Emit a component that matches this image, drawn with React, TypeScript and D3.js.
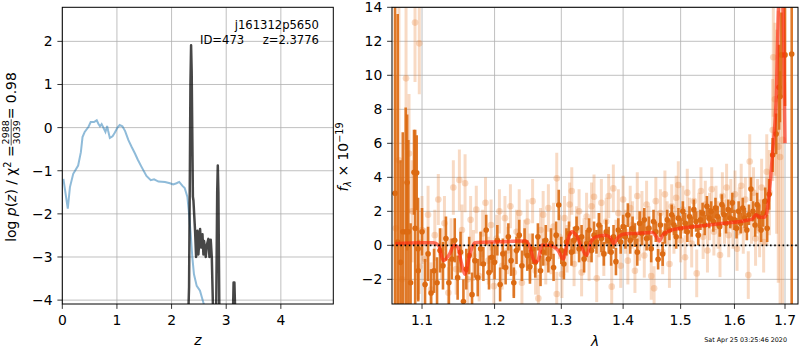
import * as d3 from 'd3';
import React, { useRef, useEffect } from 'react';

// ---- p(z) panel ----
const zTicks = [0, 1, 2, 3, 4];
const lnpTicks = [-4, -3, -2, -1, 0, 1, 2];

// prior-like curve (blue)
const zBlue = [0.02, 0.06, 0.10, 0.14, 0.20, 0.29, 0.34, 0.37, 0.41, 0.48, 0.52, 0.58, 0.63, 0.66, 0.69, 0.72, 0.76, 0.79, 0.82, 0.84, 0.87, 0.92, 0.96, 1.01, 1.05, 1.10, 1.15, 1.21, 1.27, 1.33, 1.38, 1.45, 1.54, 1.62, 1.68, 1.76, 1.88, 1.97, 2.03, 2.09, 2.14, 2.20, 2.24, 2.29, 2.32, 2.35, 2.38, 2.41, 2.46, 2.52, 2.58, 2.61];
const lnpBlue = [-1.19, -1.53, -1.88, -1.38, -1.07, -0.88, -0.57, -0.22, -0.10, 0.02, 0.13, 0.13, 0.17, 0.09, 0.03, 0.08, -0.02, -0.10, 0.04, -0.08, -0.24, -0.20, -0.12, 0.0, 0.06, 0.03, -0.08, -0.29, -0.45, -0.60, -0.74, -0.91, -1.12, -1.22, -1.20, -1.25, -1.26, -1.29, -1.32, -1.29, -1.26, -1.35, -1.40, -1.61, -2.0, -2.47, -3.01, -3.40, -3.67, -3.78, -4.05, -4.17];

// posterior (dark)
const zDark = [2.27, 2.30, 2.32, 2.335, 2.345, 2.357, 2.368, 2.39, 2.40, 2.43, 2.449, 2.473, 2.491, 2.522, 2.540, 2.565, 2.583, 2.595, 2.626, 2.644, 2.674, 2.693, 2.717, 2.736, 2.766, 2.79, 2.815, 2.835, 2.846, 2.857, 2.876, 2.90, 3.10, 3.121, 3.135, 3.15, 3.169, 3.19];
const lnpDark = [-6, -4.6, -3.7, -1.0, 1.0, 1.91, 1.3, -1.6, -1.69, -2.39, -3.0, -2.39, -2.94, -2.35, -2.78, -2.47, -2.94, -2.63, -3.0, -2.73, -2.58, -3.0, -2.60, -3.0, -4.6, -6, -4.5, -1.5, -0.88, -1.5, -4.5, -6, -6, -4.5, -3.59, -3.59, -4.5, -6];

// ---- spectrum panel ----
const lamTicks = [1.1, 1.2, 1.3, 1.4, 1.5, 1.6, 1.7];
const fluxTicks = [-2, 0, 2, 4, 6, 8, 10, 12, 14];

const modelWave = [1.065, 1.10, 1.115, 1.122, 1.1285, 1.137, 1.143, 1.148, 1.153, 1.158, 1.165, 1.172, 1.20, 1.245, 1.251, 1.2597, 1.264, 1.27, 1.28, 1.295, 1.303, 1.31, 1.316, 1.325, 1.333, 1.340, 1.347, 1.355, 1.37, 1.379, 1.384, 1.39, 1.40, 1.42, 1.45, 1.457, 1.462, 1.468, 1.48, 1.50, 1.54, 1.58, 1.62, 1.635, 1.642, 1.650, 1.658, 1.663, 1.668, 1.675, 1.682, 1.688, 1.695, 1.700];
const modelFlux = [0.1, 0.15, 0.15, 0.0, -0.9, -0.5, 0.0, -0.1, -1.0, -1.7, -0.5, 0.15, 0.2, 0.25, 0.0, -1.0, -0.9, 0.0, 0.0, -0.3, -0.8, 0.3, 0.8, 0.5, -0.2, -0.6, 0.2, 0.5, 0.6, 0.45, 0.1, 0.4, 0.65, 0.7, 0.75, 0.5, 0.25, 0.6, 0.85, 1.0, 1.15, 1.3, 1.45, 1.55, 1.8, 1.65, 1.65, 1.9, 3.0, 5.5, 8.5, 14.5, 14.5, 6.0];

const darkWave = [1.0650, 1.0684, 1.0720, 1.0749, 1.0787, 1.0805, 1.0821, 1.0850, 1.0895, 1.0910, 1.0930, 1.0948, 1.095,
  1.100, 1.104, 1.108, 1.112, 1.116, 1.120, 1.124, 1.128, 1.132, 1.136, 1.140, 1.144, 1.148, 1.152, 1.156, 1.160, 1.164, 1.168, 1.172, 1.176, 1.180, 1.184, 1.188, 1.192, 1.196,
  1.200, 1.204, 1.208, 1.212, 1.216, 1.220, 1.224, 1.228, 1.232, 1.236, 1.240, 1.244, 1.248, 1.252, 1.256, 1.260, 1.264, 1.268, 1.272, 1.276, 1.280, 1.284, 1.288, 1.292, 1.296,
  1.300, 1.304, 1.308, 1.312, 1.316, 1.320, 1.324, 1.328, 1.332, 1.336, 1.340, 1.344, 1.348, 1.352, 1.356, 1.360, 1.364, 1.368, 1.372, 1.376, 1.380, 1.384, 1.388, 1.392, 1.396,
  1.400, 1.404, 1.408, 1.412, 1.416, 1.420, 1.424, 1.428, 1.432, 1.436, 1.440, 1.444, 1.448, 1.452, 1.456, 1.460, 1.464, 1.468, 1.472, 1.476, 1.480, 1.484, 1.488, 1.492, 1.496,
  1.500, 1.504, 1.508, 1.512, 1.516, 1.520, 1.524, 1.528, 1.532, 1.536, 1.540, 1.544, 1.548, 1.552, 1.556, 1.560, 1.564, 1.568, 1.572, 1.576, 1.580, 1.584, 1.588, 1.592, 1.596,
  1.600, 1.604, 1.608, 1.612, 1.616, 1.620, 1.624, 1.628, 1.632, 1.636, 1.640, 1.644, 1.648, 1.652, 1.656, 1.660, 1.664, 1.668, 1.675, 1.682, 1.6897, 1.6926, 1.688, 1.700, 1.7137];
const darkFlux = [3.06, 0.2, -1.0, 0.8, 0.8, 3.7, 0.8, -2.2, 4.3, 1.0, 4.27, -0.2, -1.5,
  0.8, -2.3, -0.5, -2.8, -1.5, -2.2, -0.3, -1.2, 0.4, -2.2, -0.8, 0.3, -1.9, -0.4, -3.3, -1.4, -0.6, -2.9, -0.9, -1.9, -0.2, -1.1, 0.9, -1.6, -0.7,
  -1.0, 0.3, -2.3, -0.5, -1.3, 0.5, -0.9, -2.2, -0.3, 0.6, -1.2, 0.2, -0.6, -1.26, -0.2, -1.0, 0.5, -1.5, -0.4, 0.3, -0.8, 0.1, -1.3, 0.6, 2.37,
  -0.3, -1.1, 0.2, 0.7, -0.4, 0.3, 1.0, -0.2, 0.5, -0.8, 0.1, 0.9, -0.3, 0.6, 0.2, 1.2, 0.4, -0.5, 0.8, 0.3, -0.4, 0.5, -0.96, 0.9, 0.2,
  1.1, 0.5, 1.78, 0.3, 1.0, 0.6, -0.4, 1.3, 0.7, 1.5, 0.4, 1.0, -0.2, 1.4, 0.8, -0.82, 1.2, -0.51, 0.7, 1.5, 0.9, 1.8, 1.2, 0.5, 1.6,
  1.0, 2.0, 1.3, 0.8, 1.7, 1.1, 2.1, 1.4, 0.6, 1.5, 1.9, 1.2, 2.3, 1.6, 2.0, 1.4, 2.2, 1.7, 1.1, 2.4, 1.8, 1.3, 2.1, 1.6, 2.5,
  1.5, 1.0, 2.0, 1.3, 2.2, 1.6, 0.9, 1.8, 3.31, 2.0, 1.2, 2.4, 1.7, 0.9, 1.9, 2.6, 1.0, 3.0, 5.31, 6.55, 8.74, 11.2, 9.3, 11.2, 11.25];
const darkErr = [20, 13.4, 6.0, 5.85, 7.3, 4.0, 5.4, 3.5, 2.5, 5.8, 2.2, 3.0, 1.8,
  1.4, 1.5, 1.6, 1.4, 1.3, 1.5, 1.3, 1.4, 1.3, 1.4, 1.2, 1.3, 1.3, 1.2, 1.3, 1.2, 1.1, 1.3, 1.0, 1.1, 1.0, 1.0, 0.9, 1.0, 0.9,
  1.0, 0.9, 1.0, 0.9, 1.0, 0.8, 0.9, 0.9, 0.8, 0.9, 0.9, 0.8, 0.9, 1.0, 0.9, 0.9, 0.8, 0.9, 0.8, 0.9, 0.8, 0.9, 0.8, 0.8, 0.9,
  0.8, 0.9, 0.8, 0.7, 0.8, 0.8, 0.7, 0.8, 0.7, 0.8, 0.8, 0.7, 0.7, 0.8, 0.7, 0.7, 0.8, 0.7, 0.7, 0.8, 0.8, 0.7, 0.8, 0.7, 0.7,
  0.7, 0.7, 0.7, 0.8, 0.7, 0.7, 0.8, 0.7, 0.7, 0.7, 0.7, 0.7, 0.8, 0.7, 0.6, 0.6, 0.7, 0.7, 0.6, 0.6, 0.6, 0.6, 0.6, 0.7, 0.6,
  0.6, 0.6, 0.6, 0.6, 0.6, 0.6, 0.6, 0.6, 0.6, 0.6, 0.6, 0.6, 0.6, 0.6, 0.6, 0.6, 0.6, 0.6, 0.6, 0.6, 0.6, 0.6, 0.6, 0.6, 0.6,
  0.6, 0.6, 0.6, 0.6, 0.6, 0.6, 0.6, 0.6, 0.7, 0.6, 0.7, 0.7, 0.7, 0.7, 0.8, 0.8, 0.8, 0.9, 1.0, 1.2, 1.5, 2.5, 2.5, 3.0, 30];

const lightWave = [1.066, 1.070, 1.074, 1.0791, 1.083, 1.087, 1.0908, 1.0964, 1.0964, 1.100, 1.104, 1.108, 1.112, 1.117, 1.1217, 1.126, 1.130, 1.1353, 1.139, 1.1421, 1.146, 1.1504, 1.154, 1.1583, 1.162, 1.166, 1.170, 1.174, 1.178, 1.183, 1.187, 1.191, 1.195, 1.199,
  1.203, 1.207, 1.211, 1.215, 1.219, 1.223, 1.228, 1.232, 1.236, 1.240, 1.244, 1.248, 1.252, 1.256, 1.2605, 1.2647, 1.268, 1.272, 1.276, 1.280, 1.284, 1.288, 1.2929, 1.2929, 1.297,
  1.301, 1.305, 1.309, 1.313, 1.3164, 1.320, 1.324, 1.328, 1.332, 1.336, 1.340, 1.344, 1.348, 1.352, 1.3564, 1.360, 1.364, 1.368, 1.372, 1.376, 1.381, 1.3837, 1.388, 1.392, 1.396,
  1.400, 1.404, 1.408, 1.412, 1.416, 1.420, 1.424, 1.428, 1.432, 1.436, 1.440, 1.444, 1.448, 1.453, 1.456, 1.460, 1.464, 1.468, 1.472, 1.476, 1.480, 1.484, 1.488, 1.492, 1.4958,
  1.500, 1.504, 1.508, 1.512, 1.516, 1.520, 1.524, 1.5292, 1.533, 1.537, 1.541, 1.545, 1.549, 1.553, 1.557, 1.561, 1.565, 1.569, 1.5725, 1.577, 1.581, 1.585, 1.589, 1.593, 1.597,
  1.601, 1.605, 1.609, 1.613, 1.617, 1.621, 1.6268, 1.6296, 1.633, 1.637, 1.641, 1.645, 1.649, 1.653, 1.657, 1.6632, 1.6632, 1.6685, 1.6751, 1.6763, 1.6796, 1.683, 1.6863, 1.690, 1.695];
const lightFlux = [1.0, 5.0, -2.0, 9.82, 5.4, 2.0, 13.1, 11.88, -1.26, 0.9, -0.8, 1.8, -2.6, 0.6, 2.7, -0.5, 1.3, -2.79, 0.2, 3.4, -1.4, 3.84, 0.9, 3.65, -2.0, 1.5, -0.6, 2.1, -1.8, 0.7, 2.5, -0.9, 1.2, -2.4,
  0.4, 2.0, -1.2, 1.6, -0.3, 2.3, -1.6, 0.8, 1.9, -2.2, 0.1, 1.4, -0.7, 2.6, -1.5, -3.12, 0.9, 1.8, -1.0, 2.2, -0.4, 1.1, 3.94, -2.86, 0.5,
  -1.7, 1.6, -0.2, 2.4, 3.2, -1.1, 0.9, 2.0, -1.6, 0.3, 1.7, -0.8, 2.3, 2.86, -1.94, 0.6, 2.5, -0.5, 1.4, 2.9, -2.43, 3.35, 0.2, 1.9, -1.2,
  2.7, 0.8, -0.9, 2.2, 1.2, -1.5, 2.9, 0.4, 1.8, -0.6, 2.4, 1.0, -1.8, -2.53, 2.6, 0.7, 1.9, -0.4, 3.0, 1.3, -1.1, 2.3, 0.9, 2.8, 3.55,
  0.3, 2.1, -0.7, 3.1, 1.5, 0.1, 2.6, -1.65, 1.8, 3.2, 0.5, 2.4, -0.3, 1.7, 3.3, 0.8, 2.2, 1.2, -0.57, 2.9, 1.4, 3.4, 0.6, 2.5, 1.1,
  3.0, -0.2, 2.0, 3.5, 0.9, 2.7, -1.75, 4.93, 1.6, 3.1, 0.4, 2.3, 1.0, 3.4, 0.2, 1.98, 4.33, 3.1, 6.78, 11.06, 8.59, 6.68, 5.8, 5.2, 6.2];
const lightErr = [9.0, 9.0, 6.0, 4.2, 3.5, 3.0, 3.5, 3.0, 1.6, 2.0, 1.8, 1.7, 1.6, 1.5, 1.5, 1.5, 1.6, 1.5, 1.4, 1.6, 1.5, 1.8, 1.5, 1.7, 1.5, 1.4, 1.5, 1.4, 1.5, 1.4, 1.5, 1.4, 1.5, 1.4,
  1.4, 1.3, 1.4, 1.3, 1.4, 1.3, 1.4, 1.3, 1.4, 1.3, 1.4, 1.3, 1.4, 1.3, 1.4, 1.4, 1.3, 1.4, 1.3, 1.4, 1.3, 1.4, 1.5, 1.3, 1.3,
  1.4, 1.3, 1.4, 1.3, 1.4, 1.3, 1.4, 1.3, 1.4, 1.3, 1.4, 1.3, 1.4, 1.3, 1.4, 1.3, 1.4, 1.3, 1.4, 1.3, 1.4, 1.4, 1.3, 1.4, 1.3,
  1.4, 1.3, 1.4, 1.3, 1.4, 1.3, 1.4, 1.3, 1.4, 1.3, 1.4, 1.3, 1.4, 1.3, 1.4, 1.3, 1.4, 1.3, 1.4, 1.3, 1.4, 1.3, 1.4, 1.3, 1.4,
  1.3, 1.4, 1.3, 1.4, 1.3, 1.4, 1.3, 1.4, 1.3, 1.4, 1.3, 1.4, 1.3, 1.4, 1.3, 1.4, 1.3, 1.4, 1.3, 1.4, 1.3, 1.4, 1.3, 1.4, 1.3,
  1.4, 1.3, 1.4, 1.3, 1.4, 1.3, 1.4, 1.6, 1.5, 1.5, 1.6, 1.6, 1.7, 1.7, 1.8, 2.0, 2.2, 2.5, 3.0, 3.5, 4.5, 6.0, 8.0, 9.0, 10.0];

const FONT = 'DejaVu Sans';
const minus = (v: number, f: (n: number) => string) => (v < 0 ? '\u2212' + f(-v) : f(v));

const App = () => {
  const ref = useRef<SVGSVGElement>(null);

  useEffect(() => {
    const svg = d3.select(ref.current);
    svg.selectAll('*').remove();
    svg.append('rect').attr('width', 800).attr('height', 350).attr('fill', 'white');

    const top = 7.3, bottom = 304;

    // ---------- left panel ----------
    const xL = d3.scaleLinear().domain([0, 4.96]).range([62.3, 333.3]);
    const yL = d3.scaleLinear().domain([-4.09, 2.79]).range([bottom, top]);
    // ---------- right panel ----------
    const xR = d3.scaleLog().domain([1.0611, 1.7267]).range([392, 798]);
    const yR = d3.scaleLinear().domain([-3.45, 14]).range([bottom, top]);

    const defs = svg.append('defs');
    defs.append('clipPath').attr('id', 'clipL').append('rect')
      .attr('x', xL.range()[0]).attr('y', top).attr('width', xL.range()[1] - xL.range()[0]).attr('height', bottom - top);
    defs.append('clipPath').attr('id', 'clipR').append('rect')
      .attr('x', xR.range()[0]).attr('y', top).attr('width', xR.range()[1] - xR.range()[0]).attr('height', bottom - top);

    const grid = (x: any, y: any, xt: number[], yt: number[]) => {
      const g = svg.append('g').attr('stroke', '#b0b0b0').attr('stroke-width', 0.8);
      g.selectAll('line.gx').data(xt).enter().append('line')
        .attr('x1', d => x(d)).attr('x2', d => x(d)).attr('y1', top).attr('y2', bottom);
      g.selectAll('line.gy').data(yt).enter().append('line')
        .attr('x1', x.range()[0]).attr('x2', x.range()[1]).attr('y1', d => y(d)).attr('y2', d => y(d));
    };

    const frame = (x: any, y: any, xt: number[], yt: number[], fx: (n: number) => string, fy: (n: number) => string) => {
      const g = svg.append('g');
      const [x0, x1] = x.range();
      g.append('rect').attr('x', x0).attr('y', top).attr('width', x1 - x0).attr('height', bottom - top)
        .attr('fill', 'none').attr('stroke', 'black').attr('stroke-width', 1);
      g.selectAll('line.tx').data(xt).enter().append('line')
        .attr('x1', d => x(d)).attr('x2', d => x(d)).attr('y1', bottom).attr('y2', bottom + 4.9)
        .attr('stroke', 'black').attr('stroke-width', 0.8);
      g.selectAll('text.tx').data(xt).enter().append('text')
        .attr('x', d => x(d)).attr('y', bottom + 21).attr('text-anchor', 'middle')
        .attr('font-family', FONT).attr('font-size', 13.9).text(d => minus(d, fx));
      g.selectAll('line.ty').data(yt).enter().append('line')
        .attr('x1', x0 - 4.9).attr('x2', x0).attr('y1', d => y(d)).attr('y2', d => y(d))
        .attr('stroke', 'black').attr('stroke-width', 0.8);
      g.selectAll('text.ty').data(yt).enter().append('text')
        .attr('x', x0 - 9.7).attr('y', d => y(d) + 5).attr('text-anchor', 'end')
        .attr('font-family', FONT).attr('font-size', 13.9).text(d => minus(d, fy));
    };

    // ---- left panel content ----
    grid(xL, yL, zTicks, lnpTicks);
    const gl = svg.append('g').attr('clip-path', 'url(#clipL)');
    const lineL = d3.line<number>().x((d, i) => xL(zBlue[i])).y(d => yL(d));
    gl.append('path').attr('d', lineL(lnpBlue)).attr('fill', 'none')
      .attr('stroke', '#1f77b4').attr('stroke-opacity', 0.5).attr('stroke-width', 2);
    const lineD = d3.line<number>().x((d, i) => xL(zDark[i])).y(d => yL(d));
    gl.append('path').attr('d', lineD(lnpDark)).attr('fill', 'none')
      .attr('stroke', 'black').attr('stroke-opacity', 0.72).attr('stroke-width', 2.5).attr('stroke-linejoin', 'round');
    frame(xL, yL, zTicks, lnpTicks, d3.format('d'), d3.format('d'));

    svg.append('text').attr('x', 319).attr('y', 29).attr('text-anchor', 'end')
      .attr('font-family', FONT).attr('font-size', 11.6).text('j161312p5650');
    svg.append('text').attr('x', 319).attr('y', 44).attr('text-anchor', 'end')
      .attr('font-family', FONT).attr('font-size', 11.6).attr('xml:space', 'preserve')
      .text('ID=473     z=2.3776');

    // x label
    svg.append('text').attr('x', 197.8).attr('y', 345).attr('text-anchor', 'middle')
      .attr('font-family', FONT).attr('font-size', 13.9).attr('font-style', 'italic').text('z');

    // y label with fraction
    const cy = 157;
    const yl = svg.append('g').attr('transform', 'translate(16,0) rotate(-90)')
      .attr('font-family', FONT).attr('font-size', 13.9);
    const t1 = yl.append('text');
    t1.append('tspan').text('log ');
    t1.append('tspan').attr('font-style', 'italic').text('p');
    t1.append('tspan').text('(');
    t1.append('tspan').attr('font-style', 'italic').text('z');
    t1.append('tspan').text(') / \u03c7');
    t1.append('tspan').attr('font-size', 9.7).attr('dy', -5.5).text('2');
    t1.append('tspan').attr('dy', 5.5).text(' = ');
    const num = yl.append('text').attr('font-size', 9.5).attr('text-anchor', 'middle').text('2988');
    const den = yl.append('text').attr('font-size', 9.5).attr('text-anchor', 'middle').text('3039');
    const t2 = yl.append('text').text(' = 0.98');
    const w1 = (t1.node() as SVGTextElement).getComputedTextLength();
    const wf = Math.max((num.node() as SVGTextElement).getComputedTextLength(), (den.node() as SVGTextElement).getComputedTextLength()) + 2;
    const w2 = (t2.node() as SVGTextElement).getComputedTextLength();
    const u0 = -cy - (w1 + wf + w2) / 2;
    t1.attr('x', u0).attr('y', 0);
    num.attr('x', u0 + w1 + wf / 2).attr('y', -6.8);
    den.attr('x', u0 + w1 + wf / 2).attr('y', 3.6);
    yl.append('line').attr('x1', u0 + w1).attr('x2', u0 + w1 + wf).attr('y1', -4.8).attr('y2', -4.8)
      .attr('stroke', 'black').attr('stroke-width', 0.7);
    t2.attr('x', u0 + w1 + wf).attr('y', 0);

    // ---- right panel content ----
    grid(xR, yR, lamTicks, fluxTicks);
    const gr = svg.append('g').attr('clip-path', 'url(#clipR)');

    const light = gr.append('g');
    light.selectAll('line').data(lightWave).enter().append('line')
      .attr('x1', d => xR(d)).attr('x2', d => xR(d))
      .attr('y1', (d, i) => yR(lightFlux[i] - lightErr[i])).attr('y2', (d, i) => yR(lightFlux[i] + lightErr[i]))
      .attr('stroke', '#e8863a').attr('stroke-opacity', 0.3).attr('stroke-width', 3);
    light.selectAll('circle').data(lightWave).enter().append('circle')
      .attr('cx', d => xR(d)).attr('cy', (d, i) => yR(lightFlux[i])).attr('r', 3.3)
      .attr('fill', '#e8863a').attr('fill-opacity', 0.3);

    const dark = gr.append('g');
    dark.selectAll('line').data(darkWave).enter().append('line')
      .attr('x1', d => xR(d)).attr('x2', d => xR(d))
      .attr('y1', (d, i) => yR(darkFlux[i] - darkErr[i])).attr('y2', (d, i) => yR(darkFlux[i] + darkErr[i]))
      .attr('stroke', '#dc6a12').attr('stroke-opacity', 0.9).attr('stroke-width', 2.6);
    dark.selectAll('circle').data(darkWave).enter().append('circle')
      .attr('cx', d => xR(d)).attr('cy', (d, i) => yR(darkFlux[i])).attr('r', 2.8)
      .attr('fill', '#dc6a12');

    const lineM = d3.line<number>().x((d, i) => xR(modelWave[i])).y(d => yR(d)).curve(d3.curveMonotoneX);
    gr.append('path').attr('d', lineM(modelFlux)).attr('fill', 'none')
      .attr('stroke', '#ff2a10').attr('stroke-opacity', 0.65).attr('stroke-width', 3.5).attr('stroke-linejoin', 'round');

    gr.append('line').attr('x1', xR.range()[0]).attr('x2', xR.range()[1]).attr('y1', yR(0)).attr('y2', yR(0))
      .attr('stroke', 'black').attr('stroke-width', 1.6).attr('stroke-dasharray', '1.6,2.6');

    frame(xR, yR, lamTicks, fluxTicks, d3.format('.1f'), d3.format('d'));

    svg.append('text').attr('x', 595).attr('y', 346).attr('text-anchor', 'middle')
      .attr('font-family', FONT).attr('font-size', 13.9).attr('font-style', 'italic').text('\u03bb');

    const yr = svg.append('g').attr('transform', 'translate(348,0) rotate(-90)')
      .attr('font-family', FONT).attr('font-size', 13.9);
    const t3 = yr.append('text').attr('x', -cy).attr('y', 0).attr('text-anchor', 'middle');
    t3.append('tspan').attr('font-style', 'italic').text('f');
    t3.append('tspan').attr('font-size', 9.7).attr('font-style', 'italic').attr('dy', 3).text('\u03bb');
    t3.append('tspan').attr('dy', -3).text(' \u00d7 10');
    t3.append('tspan').attr('font-size', 9.7).attr('dy', -5.5).text('\u221219');

    svg.append('text').attr('x', 787).attr('y', 342).attr('text-anchor', 'end')
      .attr('font-family', FONT).attr('font-size', 6.4).text('Sat Apr 25 03:25:46 2020');
  }, []);

  return (
    <svg ref={ref} width={800} height={350}
      style={{ position: 'absolute', left: 0, top: 0, display: 'block' }} />
  );
};

export default App;
